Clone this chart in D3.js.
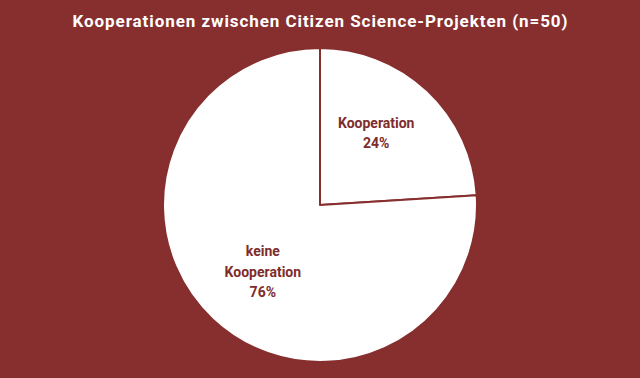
<!DOCTYPE html>
<html>
<head>
<meta charset="utf-8">
<script src="https://cdn.jsdelivr.net/npm/d3@7"></script>
<style>
  html, body { margin: 0; padding: 0; background: #862f2e; }
  svg { display: block; }
</style>
</head>
<body>
<div id="chart"></div>
<script>
const title = "Kooperationen zwischen Citizen Science-Projekten (n=50)";
const categories = ["Kooperation", "keine Kooperation"];
const shares = [24, 76];
const labelLines = [["Kooperation", "24%"], ["keine", "Kooperation", "76%"]];

(() => {
  const width = 640;
  const height = 378;
  const bg = "#862f2e";
  const cx = 320, cy = 205, radius = 157;
  // small nudges so the labels sit where the original put them
  const nudge = [[-4, -8], [3, 3]];

  const svg = d3.select("#chart")
    .append("svg")
    .attr("width", width)
    .attr("height", height)
    .style("font-family", "Roboto, 'Liberation Sans', sans-serif");

  svg.append("rect")
    .attr("width", width)
    .attr("height", height)
    .attr("fill", bg);

  svg.append("text")
    .attr("x", width / 2)
    .attr("y", 27)
    .attr("text-anchor", "middle")
    .attr("fill", "#fff")
    .attr("font-weight", 700)
    .attr("font-size", 17)
    .attr("textLength", 495)
    .attr("lengthAdjust", "spacing")
    .text(title);

  const data = categories.map((c, i) => ({ name: c, value: shares[i], lines: labelLines[i], i }));

  const pie = d3.pie()
    .value(d => d.value)
    .sort(null);

  const arc = d3.arc().innerRadius(0).outerRadius(radius);
  const labelArc = d3.arc().innerRadius(radius * 0.56).outerRadius(radius * 0.56);

  const g = svg.append("g")
    .attr("transform", `translate(${cx},${cy})`);

  const slices = g.selectAll("g.slice")
    .data(pie(data))
    .join("g")
    .attr("class", "slice");

  slices.append("path")
    .attr("d", arc)
    .attr("fill", "#fff")
    .attr("stroke", bg)
    .attr("stroke-width", 2)
    .attr("stroke-linejoin", "round");

  const lineH = 20.5;
  slices.append("text")
    .attr("transform", d => {
      const [x, y] = labelArc.centroid(d);
      const [nx, ny] = nudge[d.data.i];
      return `translate(${x + nx},${y + ny})`;
    })
    .attr("text-anchor", "middle")
    .attr("fill", "#7e2c2c")
    .attr("font-weight", 700)
    .attr("font-size", 14)
    .each(function (d) {
      const n = d.data.lines.length;
      d3.select(this).selectAll("tspan")
        .data(d.data.lines)
        .join("tspan")
        .attr("x", 0)
        .attr("y", (t, i) => (i - (n - 1) / 2) * lineH)
        .attr("dy", "0.35em")
        .text(t => t);
    });
})();
</script>
</body>
</html>
